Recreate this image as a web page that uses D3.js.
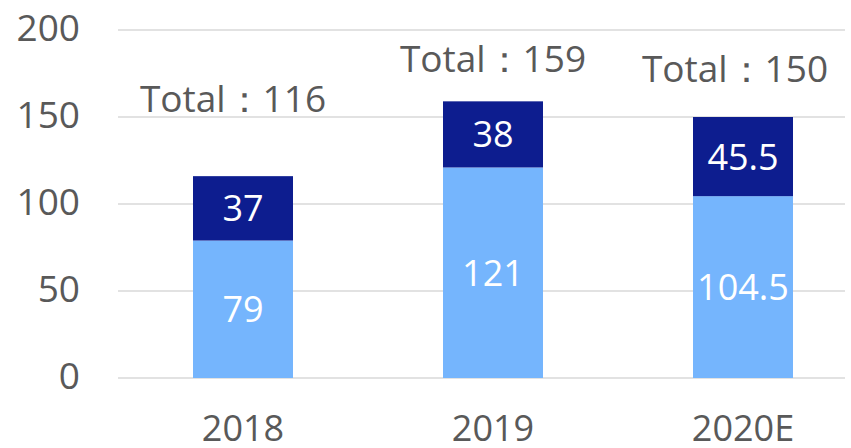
<!DOCTYPE html>
<html>
<head>
<style>
body { margin: 0; background: #fff; }
text { font-family: "Open Sans", "Noto Sans", sans-serif; }
</style>
</head>
<body>
<svg width="851" height="448"></svg>

<script src="https://d3js.org/d3.v7.min.js"></script>
<script>

let categories = ['2018', '2019', '2020E'];
let lower = [79, 121, 104.5];
let upper = [37, 38, 45.5];
let totals = [116, 159, 150];
let yTicks = [0, 50, 100, 150, 200];

// total label nudges (px)
let totalGap = [64, 29, 35];
let totalShift = [-10, 0, -8];

let svg = d3.select('svg');
let plotLeft = 118, plotTop = 30, plotBottom = 378;

// step 250, bar width 100
let x = d3.scaleBand()
    .domain(categories)
    .range([plotLeft, plotLeft + 750])
    .paddingInner(0.6)
    .paddingOuter(0.3);

let y = d3.scaleLinear()
    .domain([0, 200])
    .range([plotBottom, plotTop]);

// grid
svg.append('g').selectAll('line').data(yTicks).join('line')
    .attr('x1', plotLeft)
    .attr('x2', 845)
    .attr('y1', d => y(d))
    .attr('y2', d => y(d))
    .attr('stroke', '#d9d9d9')
    .attr('stroke-width', 1.5);

// y labels
svg.append('g').selectAll('text').data(yTicks).join('text')
    .attr('x', 80)
    .attr('y', d => y(d))
    .attr('dy', '0.3em')
    .attr('text-anchor', 'end')
    .attr('fill', '#595959')
    .style('font-size', '37px')
    .text(d => d);

let rows = categories.map((c, i) => ({
    cat: c, lo: lower[i], up: upper[i], total: totals[i],
    gap: totalGap[i], shift: totalShift[i]
}));

// bars
let g = svg.append('g');
g.selectAll('rect.lo').data(rows).join('rect')
    .attr('class', 'lo')
    .attr('x', d => x(d.cat))
    .attr('width', x.bandwidth())
    .attr('y', d => y(d.lo))
    .attr('height', d => y(0) - y(d.lo))
    .attr('fill', '#75b5fd');

g.selectAll('rect.up').data(rows).join('rect')
    .attr('class', 'up')
    .attr('x', d => x(d.cat))
    .attr('width', x.bandwidth())
    .attr('y', d => y(d.lo + d.up))
    .attr('height', d => y(d.lo) - y(d.lo + d.up))
    .attr('fill', '#0d1d8f');

// segment labels
g.selectAll('text.lo').data(rows).join('text')
    .attr('class', 'lo')
    .attr('x', d => x(d.cat) + x.bandwidth() / 2)
    .attr('y', d => (y(0) + y(d.lo)) / 2)
    .attr('dy', '0.36em')
    .attr('text-anchor', 'middle')
    .attr('fill', '#fff')
    .style('font-size', '36px')
    .text(d => d.lo);

g.selectAll('text.up').data(rows).join('text')
    .attr('class', 'up')
    .attr('x', d => x(d.cat) + x.bandwidth() / 2)
    .attr('y', d => (y(d.lo) + y(d.lo + d.up)) / 2)
    .attr('dy', '0.36em')
    .attr('text-anchor', 'middle')
    .attr('fill', '#fff')
    .style('font-size', '36px')
    .text(d => d.up);

// totals
g.selectAll('text.tot').data(rows).join('text')
    .attr('class', 'tot')
    .attr('x', d => x(d.cat) + x.bandwidth() / 2 + d.shift)
    .attr('y', d => y(d.total) - d.gap)
    .attr('text-anchor', 'middle')
    .attr('fill', '#595959')
    .style('font-size', '37px')
    .text(d => 'Total：' + d.total);

// x labels
svg.append('g').selectAll('text').data(categories).join('text')
    .attr('x', d => x(d) + x.bandwidth() / 2)
    .attr('y', 441)
    .attr('text-anchor', 'middle')
    .attr('fill', '#595959')
    .style('font-size', '36px')
    .text(d => d);

</script>
</html>
